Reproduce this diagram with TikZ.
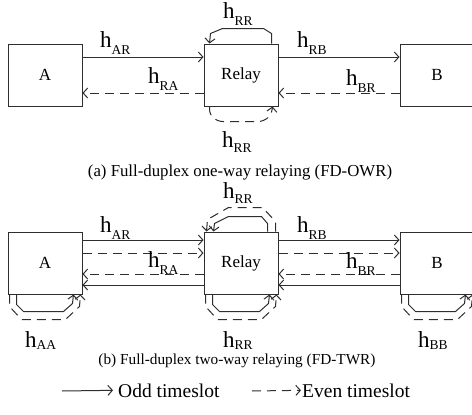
\documentclass[tikz,border=0pt]{standalone}
\usepackage{fontspec}
\setmainfont{Liberation Serif}
\usetikzlibrary{arrows.meta}
\definecolor{linecol}{gray}{0.18}
\newcommand{\hch}[2][7pt]{{\fontsize{23}{23}\selectfont h}\raisebox{-#1}{\fontsize{13.5}{13.5}\selectfont #2}}
\tikzset{
  box/.style={draw=linecol, line width=1pt, minimum width=74pt, minimum height=62pt, inner sep=0pt, font=\fontsize{17}{17}\selectfont},
  oddln/.style={draw=linecol, line width=1pt, -{Straight Barb[length=4.5pt,width=10pt]}},
  evenln/.style={oddln, dash pattern=on 9pt off 6pt},
  lbl/.style={anchor=base west, inner sep=0pt},
  capt/.style={anchor=base, inner sep=0pt, font=\fontsize{16.8}{16.8}\selectfont}
}
\begin{document}
\begin{tikzpicture}[x=1pt,y=-1pt]
	\useasboundingbox (0,0) rectangle (472,415);
	
	% (a) one-way
	\node[box] (A1) at (45,75) {A};
	\node[box] (R1) at (241,75) {Relay};
	\node[box] (B1) at (437,75) {B};
	\draw[oddln] ([yshift=18pt]A1.east) -- ([yshift=18pt]R1.west);
	\draw[evenln] ([yshift=-18pt]R1.west) -- ([yshift=-18pt]A1.east);
	\draw[oddln] ([yshift=18pt]R1.east) -- ([yshift=18pt]B1.west);
	\draw[evenln] ([yshift=-18pt]B1.west) -- ([yshift=-18pt]R1.east);
	\draw[oddln] ([xshift=-7pt]R1.north east) -- ++(0,-10) -- ++(-8,-5) -- ++(-41,0) -- ++(-12,5) -- ([xshift=6pt]R1.north west);
	\draw[evenln, rounded corners=5pt] ([xshift=6pt]R1.south west) -- ++(0,8) -- ++(8,7) -- ++(46,0) -- ++(8,-7) -- ([xshift=-6pt]R1.south east);
	\node[lbl] (hAR1) at (100,47) {\hch{AR}};
	\node[lbl] (hRA1) at (148,83) {\hch{RA}};
	\node[lbl] (hRB1) at (297,47) {\hch{RB}};
	\node[lbl] (hBR1) at (346,85) {\hch{BR}};
	\node[lbl] (hRRt1) at (223,19) {\hch{RR}};
	\node[lbl] (hRRb1) at (222,147) {\hch[5pt]{RR}};
	\node[capt] (capa) at (240,176) {(a) Full-duplex one-way relaying (FD-OWR)};
	
	% (b) two-way
	\node[box] (A2) at (45,263) {A};
	\node[box] (R2) at (241,263) {Relay};
	\node[box] (B2) at (437,263) {B};
	\draw[oddln] ([yshift=23pt]A2.east) -- ([yshift=23pt]R2.west);
	\draw[evenln] ([yshift=10pt]A2.east) -- ([yshift=10pt]R2.west);
	\draw[evenln] ([yshift=-11pt]R2.west) -- ([yshift=-11pt]A2.east);
	\draw[oddln] ([yshift=-22pt]R2.west) -- ([yshift=-22pt]A2.east);
	\draw[oddln] ([yshift=23pt]R2.east) -- ([yshift=23pt]B2.west);
	\draw[evenln] ([yshift=10pt]R2.east) -- ([yshift=10pt]B2.west);
	\draw[evenln] ([yshift=-11pt]B2.west) -- ([yshift=-11pt]R2.east);
	\draw[oddln] ([yshift=-22pt]B2.west) -- ([yshift=-22pt]R2.east);
	% self-interference loops
	\draw[oddln] ([xshift=-11pt]R2.north east) -- ++(0,-8) -- ++(-6,-7) -- ++(-33,0) -- ++(-14,7) -- ([xshift=10pt]R2.north west);
	\draw[evenln] ([xshift=-3pt]R2.north east) -- ++(0,-10) -- ++(-13,-14) -- ++(-34,0) -- ++(-21,12) -- ([xshift=3pt]R2.north west);
	\draw[oddln] ([xshift=9pt]A2.south west) -- ++(0,10) -- ++(7,7) -- ++(40,0) -- ++(9,-8) -- ([xshift=-9pt]A2.south east);
	\draw[evenln] ([xshift=2pt]A2.south west) -- ++(0,12) -- ++(12,13) -- ++(44,0) -- ++(14,-13) -- ([xshift=-2pt]A2.south east);
	\draw[oddln] ([xshift=9pt]R2.south west) -- ++(0,10) -- ++(7,7) -- ++(40,0) -- ++(9,-8) -- ([xshift=-9pt]R2.south east);
	\draw[evenln] ([xshift=2pt]R2.south west) -- ++(0,12) -- ++(12,13) -- ++(44,0) -- ++(14,-13) -- ([xshift=-2pt]R2.south east);
	\draw[oddln] ([xshift=9pt]B2.south west) -- ++(0,10) -- ++(7,7) -- ++(40,0) -- ++(9,-8) -- ([xshift=-9pt]B2.south east);
	\draw[evenln] ([xshift=2pt]B2.south west) -- ++(0,12) -- ++(12,13) -- ++(44,0) -- ++(14,-13) -- ([xshift=-2pt]B2.south east);
	\node[lbl] (hAR2) at (100,232) {\hch{AR}};
	\node[lbl] (hRA2) at (148,267) {\hch{RA}};
	\node[lbl] (hRB2) at (297,232) {\hch{RB}};
	\node[lbl] (hBR2) at (346,268) {\hch{BR}};
	\node[lbl] (hRRt2) at (223,198) {\hch[5pt]{RR}};
	\node[lbl] (hAA2) at (25,347) {\hch[2pt]{AA}};
	\node[lbl] (hRRb2) at (223,347) {\hch[2pt]{RR}};
	\node[lbl] (hBB2) at (418,347) {\hch[2pt]{BB}};
	\node[capt, font=\fontsize{15.3}{15.3}\selectfont] (capb) at (237,364) {(b) Full-duplex two-way relaying (FD-TWR)};
	
	% legend
	\node[lbl, font=\fontsize{19.5}{19.5}\selectfont] (oddtxt) at (118,397) {Odd timeslot};
	\node[lbl, font=\fontsize{19.5}{19.5}\selectfont] (eventxt) at (302,397) {Even timeslot};
	\coordinate (oddstart) at (62,391);
	\coordinate (evenstart) at (252,391);
	\draw[oddln] (oddstart) -- ([xshift=-5pt]oddtxt.west);
	\draw[evenln] (evenstart) -- ([xshift=-1pt]eventxt.west);
\end{tikzpicture}
\end{document}
